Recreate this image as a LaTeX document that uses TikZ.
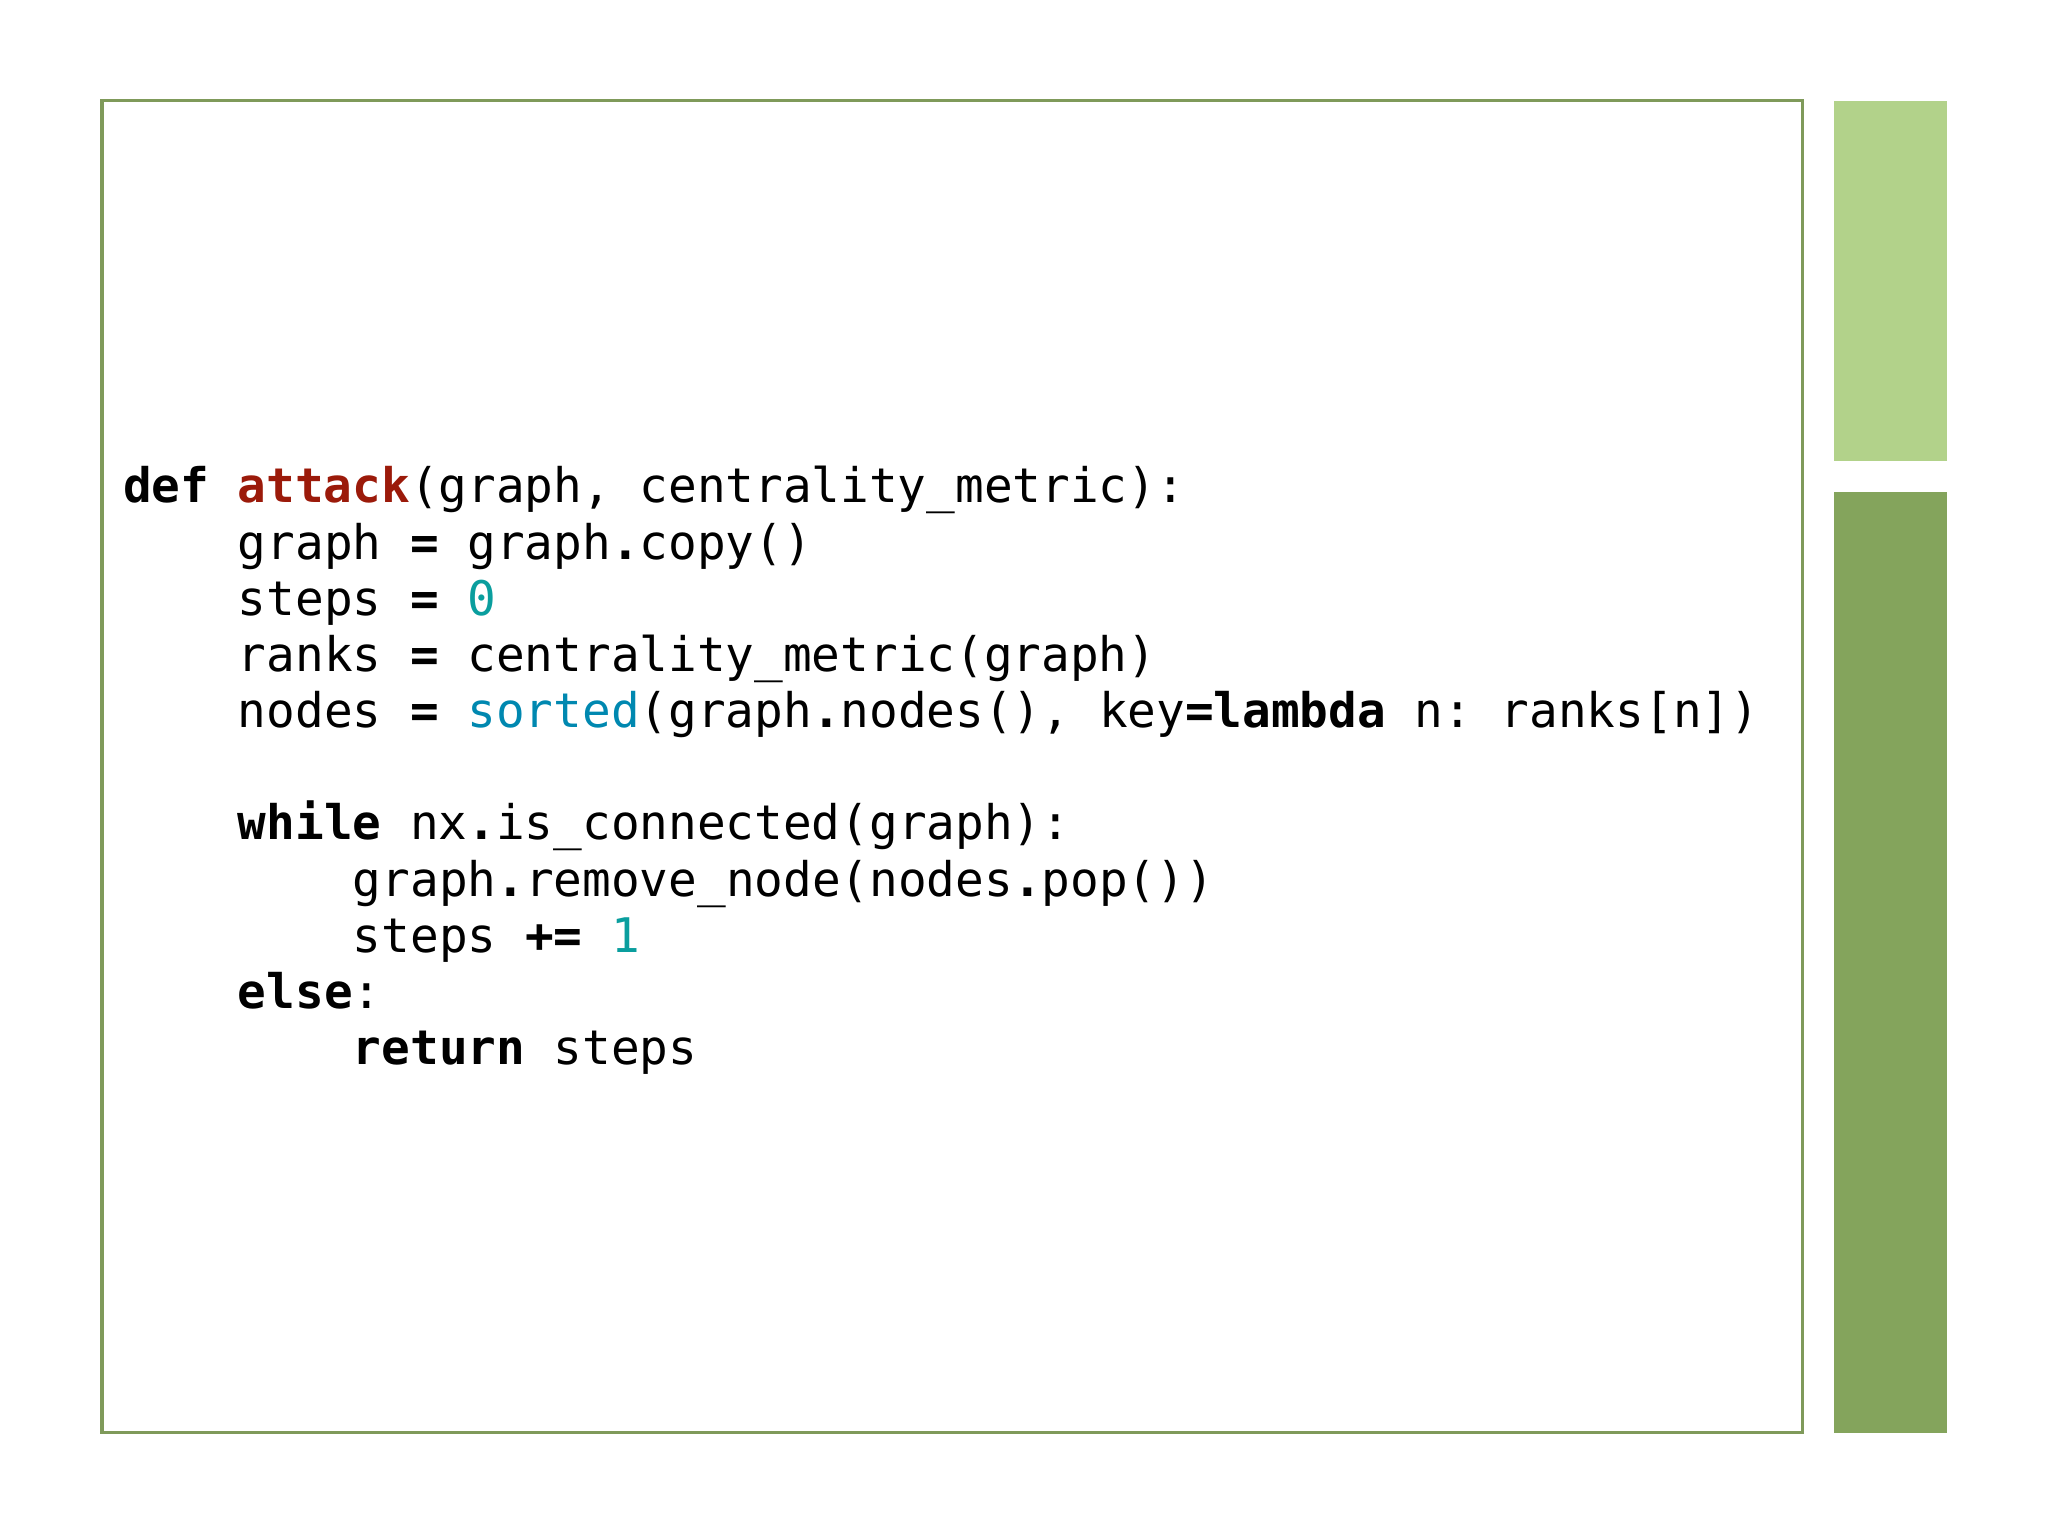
\documentclass[tikz,border=0pt]{standalone}
\usepackage{fontspec}
\newfontfamily\code{DejaVu Sans Mono}
\definecolor{frame}{HTML}{7F9A5A}
\definecolor{barlight}{HTML}{B2D28A}
\definecolor{bardark}{HTML}{84A45C}
\definecolor{fn}{HTML}{9B1A0A}
\definecolor{num}{HTML}{0A9E9E}
\definecolor{bi}{HTML}{0088B0}
\begin{document}
\begin{tikzpicture}[x=1pt,y=-1pt,
  ln/.style={anchor=base west,inner sep=0pt,font=\code\fontsize{36.5}{43}\selectfont}]
\useasboundingbox (0,0) rectangle (1568,1176);
\draw[frame,line width=2.5pt] (78,77) rectangle (1380,1097);
\fill[barlight] (1404,77) rectangle (1491,353);
\fill[bardark] (1404,377) rectangle (1491,1097);
\node[ln] (l1) at (94,385) {\textbf{def}\ \textcolor{fn}{\textbf{attack}}(graph,\ centrality\_metric):};
\node[ln] (l2) at (182,428) {graph\ \textbf{=}\ graph\textbf{.}copy()};
\node[ln] (l3) at (182,471) {steps\ \textbf{=}\ \textcolor{num}{0}};
\node[ln] (l4) at (182,514) {ranks\ \textbf{=}\ centrality\_metric(graph)};
\node[ln] (l5) at (182,557) {nodes\ \textbf{=}\ \textcolor{bi}{sorted}(graph\textbf{.}nodes(),\ key\textbf{=lambda}\ n:\ ranks[n])};
\node[ln] (l6) at (182,643) {\textbf{while}\ nx\textbf{.}is\_connected(graph):};
\node[ln] (l7) at (270,686) {graph\textbf{.}remove\_node(nodes\textbf{.}pop())};
\node[ln] (l8) at (270,729) {steps\ \textbf{+=}\ \textcolor{num}{1}};
\node[ln] (l9) at (182,772) {\textbf{else}:};
\node[ln] (l10) at (270,815) {\textbf{return}\ steps};
\end{tikzpicture}
\end{document}
